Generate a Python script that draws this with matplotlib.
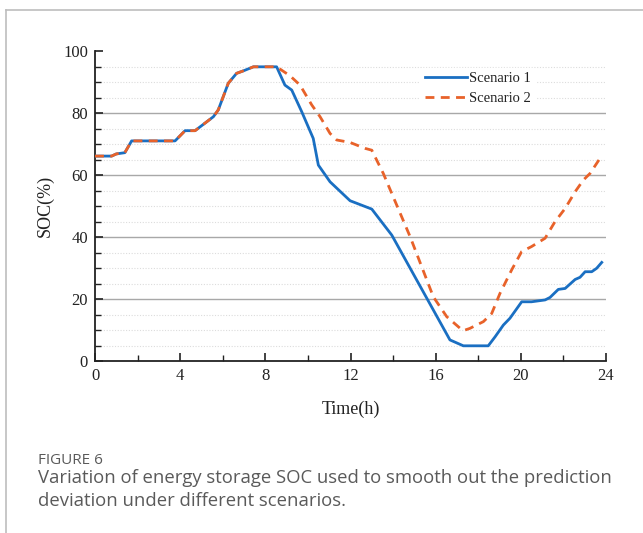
import matplotlib
matplotlib.use("Agg")
import matplotlib.pyplot as plt
from matplotlib.lines import Line2D
from matplotlib.ticker import MultipleLocator

# Data
s1_t = [0, 0.78, 1.0, 1.4, 1.72, 3.76, 4.23, 4.7, 5.56, 5.79, 6.26, 6.65, 6.97, 7.44, 8.53,
        8.92, 9.24, 9.71, 10.25, 10.49, 11.04, 11.98, 13.0, 13.94, 16.67, 17.3, 18.47,
        18.79, 19.18, 19.49, 20.04, 20.5, 21.14, 21.37, 21.76, 22.08, 22.55, 22.78,
        23.02, 23.33, 23.56, 23.8]
s1_soc = [66.1, 66.1, 66.8, 67.2, 71.0, 71.0, 74.3, 74.3, 78.8, 81.0, 89.6, 92.8, 93.6, 94.9, 94.9,
          89.0, 87.4, 80.4, 71.8, 63.2, 57.8, 51.7, 49.0, 40.6, 6.8, 4.9, 4.9,
          7.8, 11.6, 13.8, 19.1, 19.1, 19.7, 20.5, 23.1, 23.4, 26.3, 27.0,
          28.8, 28.8, 29.9, 31.8]

s2_t = [0, 0.78, 1.0, 1.4, 1.72, 3.76, 4.23, 4.7, 5.56, 5.79, 6.26, 6.65, 6.97, 7.44, 8.53,
        9.16, 9.63, 10.18, 10.57, 11.04, 11.35, 11.98, 12.68, 13.0, 13.54, 14.8, 15.89,
        16.52, 17.14, 17.3, 17.6, 18.24, 18.63, 19.02, 19.57, 20.04, 20.5, 21.14, 21.6,
        22.08, 22.55, 22.94, 23.25, 23.72]
s2_soc = [66.1, 66.1, 66.8, 67.2, 71.0, 71.0, 74.3, 74.3, 78.8, 81.0, 89.6, 92.8, 93.6, 94.9, 94.9,
          92.0, 89.0, 82.6, 78.8, 73.4, 71.3, 70.5, 68.6, 68.0, 60.5, 40.1, 20.7,
          14.3, 10.6, 9.8, 10.5, 12.7, 15.3, 21.8, 29.4, 35.3, 36.9, 39.6, 44.9,
          49.2, 54.6, 58.4, 60.5, 65.4]

series_names = ["Scenario 1", "Scenario 2"]
x_ticks = [0, 4, 8, 12, 16, 20, 24]
y_ticks = [0, 20, 40, 60, 80, 100]
x_label = "Time(h)"
y_label = "SOC(%)"
caption_head = "FIGURE 6"
caption_body = "Variation of energy storage SOC used to smooth out the prediction\ndeviation under different scenarios."

blue = "#1a6fc2"
orange = "#e8622a"
serif = "Liberation Serif"

fig = plt.figure(figsize=(6.43, 5.33), dpi=100)
fig.patch.set_facecolor("white")

# outer frame lines (top and left)
fig.add_artist(Line2D([6/643, 1.0], [1 - 10/533, 1 - 10/533], color="#bdbdbd", lw=1.2,
                      transform=fig.transFigure))
fig.add_artist(Line2D([6/643, 6/643], [0, 1 - 10/533], color="#bdbdbd", lw=1.2,
                      transform=fig.transFigure))

ax = fig.add_axes([95/643, (533-361)/533, 511/643, 310/533])
ax.set_xlim(0, 24)
ax.set_ylim(0, 100)

# grid: solid at major, dotted at minor
for v in [20, 40, 60, 80]:
    ax.axhline(v, color="#a8a8a8", lw=1.0, zorder=0)
for v in range(5, 100, 5):
    if v % 20 != 0:
        ax.axhline(v, color="#dcdcdc", lw=0.8, ls=(0, (1, 1.5)), zorder=0)

ax.plot(s1_t, s1_soc, color=blue, lw=2.0, label=series_names[0], zorder=3)
ax.plot(s2_t, s2_soc, color=orange, lw=2.0, dashes=(3.2, 2.3), label=series_names[1], zorder=4)

for sp in ["top", "right"]:
    ax.spines[sp].set_visible(False)
for sp in ["left", "bottom"]:
    ax.spines[sp].set_color("#222222")
    ax.spines[sp].set_linewidth(1.3)

ax.set_xticks(x_ticks)
ax.set_yticks(y_ticks)
ax.xaxis.set_minor_locator(MultipleLocator(2))
ax.yaxis.set_minor_locator(MultipleLocator(5))
ax.tick_params(axis="both", which="major", direction="in", length=6, width=1.2,
               colors="#222222", labelsize=12, pad=5)
ax.tick_params(axis="both", which="minor", direction="in", length=4, width=1.0, colors="#222222")
for lab in ax.get_xticklabels() + ax.get_yticklabels():
    lab.set_fontfamily(serif)
    lab.set_color("#222222")

ax.set_xlabel(x_label, fontfamily=serif, fontsize=13, color="#222222", labelpad=12)
ax.set_ylabel(y_label, fontfamily=serif, fontsize=13, color="#222222", labelpad=7)

leg = ax.legend(loc="upper right", bbox_to_anchor=(0.875, 0.97), frameon=True,
                prop={"family": serif, "size": 10.5}, handlelength=2.9, handletextpad=0.1,
                labelspacing=0.45, borderpad=0.3)
leg.get_frame().set_facecolor("white")
leg.get_frame().set_edgecolor("white")
leg.get_frame().set_alpha(1.0)
for t in leg.get_texts():
    t.set_color("#222222")

fig.text(38/643, 1 - 460/533, caption_head, fontfamily="Open Sans", fontsize=11,
         color="#5a5a5a", va="center")
fig.text(38/643, 1 - 489.5/533, caption_body, fontfamily="Open Sans", fontsize=13.3,
         color="#5a5a5a", va="center", linespacing=1.3)

fig.savefig("out.png", dpi=100, facecolor="white")
